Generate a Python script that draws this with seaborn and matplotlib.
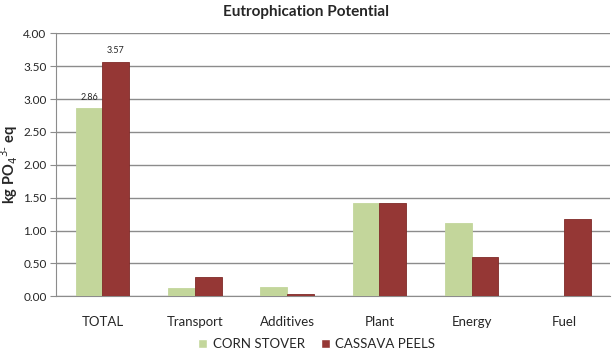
import matplotlib
matplotlib.use("Agg")
import matplotlib.pyplot as plt
import seaborn as sns
import pandas as pd

categories = ["TOTAL", "Transport", "Additives", "Plant", "Energy", "Fuel"]
corn_stover = [2.86, 0.12, 0.14, 1.42, 1.12, 0.0]
cassava_peels = [3.57, 0.30, 0.035, 1.42, 0.60, 1.17]
series = ["CORN STOVER", "CASSAVA PEELS"]
yticks = [0.0, 0.5, 1.0, 1.5, 2.0, 2.5, 3.0, 3.5, 4.0]

df = pd.DataFrame({
    "category": categories * 2,
    "value": corn_stover + cassava_peels,
    "series": [series[0]] * len(categories) + [series[1]] * len(categories),
})

sns.set_style("white")
plt.rcParams["font.family"] = ["Lato", "DejaVu Sans"]

fig = plt.figure(figsize=(6.12, 3.54), dpi=100)
ax = fig.add_axes([0.092, 0.163, 0.905, 0.743])

palette = {series[0]: "#C3D69B", series[1]: "#953735"}
sns.barplot(data=df, x="category", y="value", hue="series", order=categories,
            hue_order=series, palette=palette, width=0.58, saturation=1,
            ax=ax, legend=True, zorder=3)

for i, cont in enumerate(ax.containers):
    for bar in cont:
        bar.set_edgecolor("#C3D69B" if i == 0 else "#7f2a28")
        bar.set_linewidth(0.6)

ax.set_ylim(0, 4.0)
ax.set_yticks(yticks)
ax.set_yticklabels([f"{v:.2f}" for v in yticks], fontsize=8.5)
ax.yaxis.grid(True, color="#8c8c8c", linewidth=1.0, zorder=0)
ax.set_axisbelow(True)
ax.set_xlim(-0.5, len(categories) - 0.5)

for s in ["top", "right"]:
    ax.spines[s].set_visible(False)
ax.spines["left"].set_color("#8c8c8c")
ax.spines["bottom"].set_color("#8c8c8c")

ax.set_xticks([i + 0.5 for i in range(len(categories) - 1)], minor=True)
ax.set_xticks(range(len(categories)))
ax.set_xticklabels(categories, fontsize=9.5)
ax.tick_params(axis="x", which="major", length=0, pad=14)
ax.tick_params(axis="x", which="minor", length=4, color="#8c8c8c", direction="out")
ax.tick_params(axis="y", length=4, color="#8c8c8c", direction="out", left=True, pad=3)

ax.set_xlabel("")
ax.set_ylabel("kg PO$_4$$^{3\\text{-}}$ eq", fontsize=10.5, fontweight="bold", labelpad=2)

# value labels on TOTAL
for cont in ax.containers:
    bar = cont[0]
    ax.text(bar.get_x() + bar.get_width() / 2, bar.get_height() + 0.1,
            f"{bar.get_height():.2f}", ha="center", va="bottom", fontsize=6.5)

fig.suptitle("Eutrophication Potential", y=0.985, fontsize=11, fontweight="bold")

leg = ax.legend(loc="upper center", bbox_to_anchor=(0.47, -0.115), ncol=2, frameon=False,
                fontsize=9.5, handlelength=0.7, handleheight=0.7, columnspacing=1.2,
                handletextpad=0.4)

fig.savefig("out.png", dpi=100)
